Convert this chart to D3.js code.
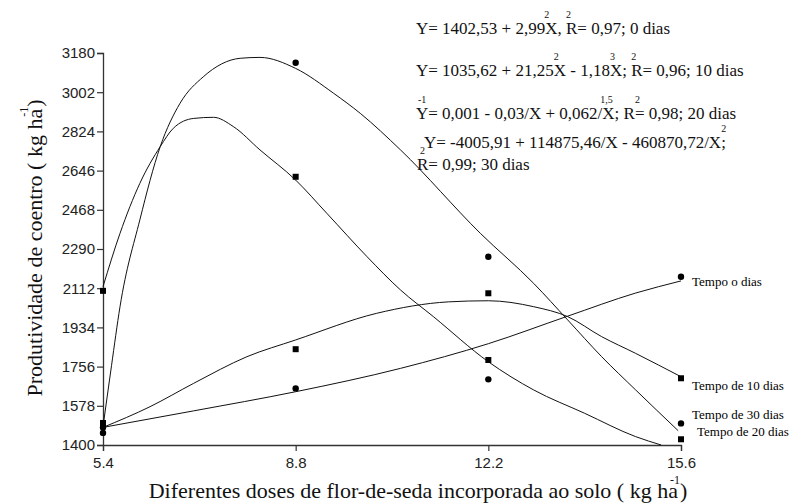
<!DOCTYPE html>
<html>
<head>
<meta charset="utf-8">
<script src="https://cdn.jsdelivr.net/npm/d3@7"></script>
<style>
  body { margin: 0; background: #fff; }
  svg { display: block; }
  .serif { font-family: "Liberation Serif", "Times New Roman", Times, serif; }
  .sans { font-family: "Liberation Sans", Arial, sans-serif; }
</style>
</head>
<body>
<svg id="chart" width="795" height="504"></svg>
<script>
// doses (x) and observed yield per storage time
const doses = [5.4, 8.8, 12.2, 15.6];
const obs0  = [1455, 1657, 1698, 2164];
const obs10 = [1500, 1835, 2089, 1703];
const obs20 = [2100, 2618, 1786, 1426];
const obs30 = [1480, 3136, 2255, 1498];

// fitted curves [dose, yield]
const fit0  = [[5.4,1480],[7,1555],[8.8,1642],[10.65,1748],[12.2,1860],[13.6,1985],[14.8,2090],[15.6,2145]];
const fit10 = [[5.4,1480],[6.23,1574],[7,1680],[7.94,1801],[8.8,1877],[10.23,1998],[11.5,2050],[12.2,2055],[13,2028],[13.6,1983],[14.2,1892],[14.8,1816],[15.6,1710]];
const fit20 = [[5.4,2119],[5.7,2361],[6.05,2588],[6.41,2755],[6.64,2838],[7,2883],[7.35,2888],[7.7,2846],[8.17,2740],[8.8,2603],[9.35,2452],[10.06,2255],[10.65,2104],[11.23,1983],[12.2,1778],[13,1650],[13.9,1544],[14.8,1438],[15.25,1400]];
const fit30 = [[5.4,1483],[5.55,1760],[5.7,2028],[6.05,2422],[6.41,2755],[6.76,2952],[7.17,3072],[7.82,3156],[8.17,3160],[8.8,3110],[9.47,2997],[9.94,2906],[10.65,2740],[12.06,2361],[13,2134],[13.6,1968],[14.2,1801],[14.8,1650],[15.55,1465]];

const yTicks = [1400, 1578, 1756, 1934, 2112, 2290, 2468, 2646, 2824, 3002, 3180];

const series = [
  { obs: obs0,  fit: fit0,  shape: "circle", label: "Tempo o dias",     ly: 286, lx: 692 },
  { obs: obs10, fit: fit10, shape: "square", label: "Tempo de 10 dias", ly: 390, lx: 692 },
  { obs: obs20, fit: fit20, shape: "square", label: "Tempo de 20 dias", ly: 436, lx: 697 },
  { obs: obs30, fit: fit30, shape: "circle", label: "Tempo de 30 dias", ly: 419, lx: 692 }
];

const svg = d3.select("#chart");

const x = d3.scaleLinear().domain([5.4, 15.6]).range([103, 681]);
const y = d3.scaleLinear().domain([1400, 3180]).range([445, 53]);

// axes
const xAxis = svg.append("g").attr("transform", "translate(0,445)")
  .call(d3.axisBottom(x).tickValues(doses).tickFormat(d3.format(".1f")).tickSizeOuter(0).tickSize(6));
const yAxis = svg.append("g").attr("transform", "translate(103,0)")
  .call(d3.axisLeft(y).tickValues(yTicks).tickFormat(d3.format("d")).tickSizeOuter(0).tickSize(6));

[xAxis, yAxis].forEach(g => {
  g.attr("font-family", null).attr("font-size", null).attr("class", "sans");
  g.select(".domain").attr("stroke", "#333").attr("stroke-width", 1.3);
  g.selectAll(".tick line").attr("stroke", "#333").attr("stroke-width", 1.2);
  g.selectAll(".tick text").style("font-size", "15px").attr("fill", "#222");
});
xAxis.selectAll(".tick text").attr("dy", "0.9em");
yAxis.selectAll(".tick text").attr("x", -8);

// fitted curves
const line = d3.line().x(d => x(d[0])).y(d => y(d[1])).curve(d3.curveMonotoneX);
series.forEach(s => {
  svg.append("path").datum(s.fit)
    .attr("d", line).attr("fill", "none").attr("stroke", "#111").attr("stroke-width", 1);
});

// observed points
series.forEach(s => {
  const pts = doses.map((d, i) => [d, s.obs[i]]);
  if (s.shape === "circle") {
    svg.selectAll(null).data(pts).enter().append("circle")
      .attr("cx", d => x(d[0])).attr("cy", d => y(d[1])).attr("r", 3.2).attr("fill", "#000");
  } else {
    svg.selectAll(null).data(pts).enter().append("rect")
      .attr("x", d => x(d[0]) - 3).attr("y", d => y(d[1]) - 3)
      .attr("width", 6).attr("height", 6).attr("fill", "#000");
  }
  svg.append("text").attr("class", "serif").attr("x", s.lx).attr("y", s.ly)
    .style("font-size", "13px").text(s.label);
});

// equations: main text plus small raised numbers placed over a character index
function eq(xp, yp, str, sups) {
  const t = svg.append("text").attr("class", "serif").attr("x", xp).attr("y", yp)
    .style("font-size", "17px").attr("fill", "#111").text(str);
  const node = t.node();
  (sups || []).forEach(s => {
    const w = s.at > 0 ? node.getSubStringLength(0, s.at) : 0;
    svg.append("text").attr("class", "serif").attr("x", xp + w + (s.dx || 0)).attr("y", yp - 16)
      .style("font-size", "10px").attr("fill", "#111").text(s.t);
  });
}
eq(416, 34, "Y= 1402,53 + 2,99X, R= 0,97; 0 dias", [{at: 17, t: "2", dx: -1}, {at: 20, t: "2", dx: 0}]);
eq(416, 76, "Y= 1035,62 + 21,25X - 1,18X; R= 0,96; 10 dias", [{at: 18, t: "2", dx: 0}, {at: 26, t: "3", dx: 0}, {at: 29, t: "2", dx: 0}]);
eq(416, 119, "Y= 0,001 - 0,03/X + 0,062/X; R= 0,98; 20 dias", [{at: 0, t: "-1", dx: 2}, {at: 26, t: "1,5", dx: -2}, {at: 30, t: "2", dx: 0}]);
eq(424, 148, "Y= -4005,91 + 114875,46/X - 460870,72/X;", [{at: 39, t: "2", dx: 0}]);
eq(417, 170, "R= 0,99; 30 dias", [{at: 0, t: "2", dx: 3}]);

// axis titles
const xt = svg.append("text").attr("class", "serif").attr("x", 418).attr("y", 498).attr("text-anchor", "middle")
  .style("font-size", "22px").attr("fill", "#111");
xt.append("tspan").text("Diferentes doses de flor-de-seda incorporada ao solo ( kg ha");
xt.append("tspan").attr("dx", -8).attr("dy", -14).style("font-size", "12px").text("-1");
xt.append("tspan").attr("dy", 14).text(")");

const yt = svg.append("text").attr("class", "serif").attr("transform", "translate(42,248) rotate(-90)").attr("text-anchor", "middle")
  .style("font-size", "22px").attr("fill", "#111");
yt.append("tspan").text("Produtividade de coentro ( kg ha");
yt.append("tspan").attr("dx", -8).attr("dy", -14).style("font-size", "12px").text("-1");
yt.append("tspan").attr("dy", 14).text(")");
</script>
</body>
</html>
